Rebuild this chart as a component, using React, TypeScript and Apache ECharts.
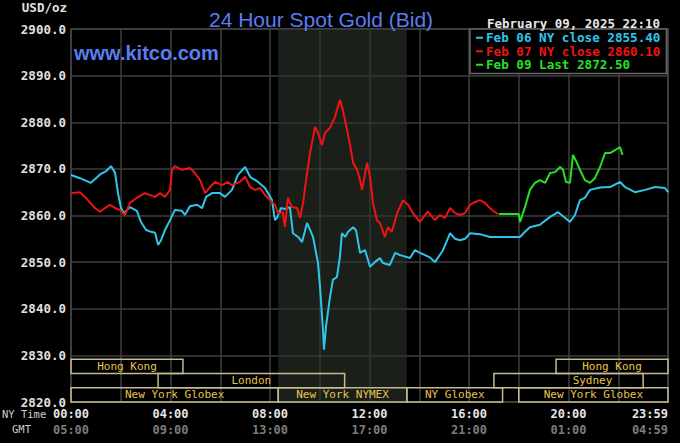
import React, { useEffect, useRef } from "react";
import * as echarts from "echarts";

// ---- data (hour of NY day, price) ----
const feb06: [number, number][] = [
  [0.0, 2868.7], [0.36, 2868.0], [0.8, 2867.0], [1.17, 2868.8], [1.41, 2869.5], [1.61, 2870.6],
  [1.77, 2869.2], [1.89, 2864.8], [2.01, 2861.6], [2.13, 2860.5], [2.37, 2861.8], [2.65, 2861.0],
  [2.81, 2858.6], [3.02, 2856.9], [3.22, 2856.5], [3.38, 2856.3], [3.5, 2853.7], [3.62, 2854.7],
  [3.78, 2856.9], [3.98, 2859.0], [4.18, 2861.2], [4.46, 2861.0], [4.58, 2860.1], [4.78, 2862.0],
  [5.07, 2862.3], [5.27, 2861.6], [5.43, 2864.0], [5.67, 2864.8], [5.99, 2864.8], [6.19, 2864.0],
  [6.47, 2865.5], [6.71, 2868.7], [7.0, 2870.4], [7.2, 2868.3], [7.52, 2867.2], [7.8, 2865.9],
  [8.08, 2863.3], [8.2, 2859.0], [8.28, 2859.5], [8.44, 2861.6], [8.6, 2861.4], [8.8, 2861.8],
  [8.92, 2856.2], [9.13, 2855.4], [9.29, 2854.3], [9.49, 2858.4], [9.73, 2855.4], [9.93, 2849.8],
  [10.01, 2844.7], [10.13, 2835.4], [10.17, 2831.2], [10.25, 2836.1], [10.41, 2842.5], [10.53, 2846.2],
  [10.69, 2846.8], [10.81, 2851.1], [10.89, 2856.2], [11.02, 2855.4], [11.14, 2856.5], [11.34, 2857.5],
  [11.46, 2856.8], [11.62, 2852.0], [11.82, 2852.6], [12.02, 2849.0], [12.22, 2850.0], [12.42, 2850.9],
  [12.54, 2849.8], [12.82, 2849.4], [13.03, 2852.0], [13.23, 2851.5], [13.63, 2850.9], [13.83, 2852.6],
  [14.03, 2852.0], [14.43, 2851.0], [14.63, 2850.0], [14.95, 2852.5], [15.24, 2856.2], [15.44, 2855.0],
  [15.64, 2854.7], [15.84, 2855.0], [16.04, 2856.2], [16.44, 2856.0], [16.84, 2855.4], [18.05, 2855.4],
  [18.25, 2856.5], [18.45, 2857.5], [18.85, 2858.0], [19.26, 2859.7], [19.58, 2860.7], [19.86, 2859.5],
  [20.06, 2858.6], [20.26, 2860.1], [20.46, 2863.3], [20.66, 2863.8], [20.86, 2865.5], [21.27, 2866.0],
  [21.67, 2866.1], [22.07, 2867.2], [22.27, 2866.1], [22.67, 2865.0], [23.08, 2865.5], [23.48, 2866.1],
  [23.88, 2865.9], [24.0, 2865.0],
];

const feb07: [number, number][] = [
  [0.0, 2864.8], [0.36, 2865.0], [0.68, 2863.3], [0.96, 2861.6], [1.17, 2860.8], [1.37, 2861.6],
  [1.57, 2862.3], [1.77, 2861.6], [1.97, 2861.2], [2.17, 2860.1], [2.37, 2862.7], [2.65, 2863.8],
  [2.97, 2864.8], [3.38, 2864.0], [3.58, 2864.8], [3.78, 2864.0], [3.98, 2865.5], [4.06, 2869.8],
  [4.18, 2870.6], [4.46, 2869.8], [4.78, 2870.2], [4.98, 2869.1], [5.19, 2867.6], [5.39, 2864.8],
  [5.59, 2866.1], [5.79, 2867.2], [6.07, 2866.5], [6.31, 2867.2], [6.47, 2866.5], [6.79, 2867.2],
  [7.0, 2868.3], [7.2, 2866.1], [7.4, 2865.5], [7.6, 2865.9], [7.8, 2864.4], [8.0, 2863.3],
  [8.2, 2862.3], [8.32, 2860.5], [8.52, 2860.7], [8.6, 2857.5], [8.72, 2863.8], [8.88, 2861.8],
  [9.09, 2861.6], [9.21, 2859.5], [9.33, 2862.7], [9.49, 2869.1], [9.61, 2873.4], [9.81, 2879.0],
  [9.93, 2877.7], [10.09, 2875.1], [10.21, 2877.7], [10.41, 2878.8], [10.61, 2881.1], [10.81, 2884.8],
  [10.93, 2882.6], [11.1, 2878.3], [11.22, 2875.1], [11.34, 2871.3], [11.5, 2869.8], [11.62, 2867.6],
  [11.7, 2865.5], [11.9, 2871.3], [12.02, 2868.3], [12.14, 2862.7], [12.3, 2859.0], [12.42, 2858.4],
  [12.62, 2855.4], [12.74, 2857.5], [12.9, 2856.5], [13.11, 2860.5], [13.35, 2863.3], [13.55, 2862.3],
  [13.75, 2860.5], [14.03, 2858.6], [14.23, 2860.1], [14.35, 2860.8], [14.63, 2859.0], [14.83, 2860.1],
  [15.04, 2859.5], [15.24, 2861.6], [15.44, 2860.5], [15.64, 2860.1], [15.84, 2860.5], [16.04, 2862.3],
  [16.24, 2862.9], [16.44, 2863.3], [16.64, 2862.7], [16.84, 2861.6], [17.05, 2860.7], [17.17, 2860.3],
];

const feb09: [number, number][] = [
  [17.2, 2860.3], [18.0, 2860.3], [18.05, 2858.6], [18.25, 2861.8], [18.45, 2865.5], [18.65, 2867.0],
  [18.85, 2867.6], [19.06, 2867.0], [19.26, 2869.1], [19.46, 2869.3], [19.66, 2870.4], [19.78, 2869.8],
  [19.9, 2867.2], [20.06, 2867.0], [20.18, 2873.0], [20.34, 2871.3], [20.46, 2869.8], [20.66, 2867.6],
  [20.86, 2867.0], [21.06, 2868.0], [21.27, 2870.4], [21.47, 2873.4], [21.67, 2873.4], [21.87, 2874.0],
  [22.07, 2874.7], [22.17, 2873.0],
];

const seriesNames = ["Feb 06 NY close 2855.40", "Feb 07 NY close 2860.10", "Feb 09 Last 2872.50"];
const seriesColors = ["#2fc6ea", "#ee1414", "#26e026"];

const nyTimeLabels = ["00:00", "04:00", "08:00", "12:00", "16:00", "20:00", "23:59"];
const gmtLabels = ["05:00", "09:00", "13:00", "17:00", "21:00", "01:00", "04:59"];

const sessionNames = ["Hong Kong", "London", "New York Globex", "New York NYMEX", "NY Globex", "Sydney", "Hong Kong", "New York Globex"];
const sessionStart = [0, 3.5, 0, 8.33, 13.5, 17.0, 19.5, 18.0];
const sessionEnd = [4.5, 11.0, 8.33, 13.5, 17.35, 23.0, 24, 24];
const sessionRow = [0, 1, 2, 2, 2, 1, 0, 2];
const rowEdges = [2829.15, 2826.1, 2823.05, 2820];

const nymexShade = [8.33, 13.5];

const MONO = "'DejaVu Sans Mono', monospace";

export default function App() {
  const ref = useRef<HTMLDivElement>(null);
  useEffect(() => {
    if (!ref.current) return;
    const chart = echarts.init(ref.current, null, { renderer: "svg" });

    const areas: any[] = [
      [
        { xAxis: nymexShade[0], yAxis: 2900, itemStyle: { color: "rgba(44,52,44,0.6)", borderWidth: 0 }, label: { show: false } },
        { xAxis: nymexShade[1], yAxis: 2820 },
      ],
    ];
    sessionNames.forEach((name, i) => {
      const r = sessionRow[i];
      areas.push([
        {
          name,
          xAxis: sessionStart[i],
          yAxis: rowEdges[r],
          itemStyle: { color: "rgba(0,0,0,0)", borderColor: "#c4bc90", borderWidth: 1.5 },
          label: name === "Sydney" ? { offset: [24, 0] } : {},
        },
        { xAxis: sessionEnd[i], yAxis: rowEdges[r + 1] },
      ]);
    });

    const mk = (i: number, data: [number, number][], extra: any = {}) => ({
      name: seriesNames[i],
      type: "line",
      data,
      showSymbol: false,
      symbol: "none",
      color: seriesColors[i],
      lineStyle: { width: 2, color: seriesColors[i] },
      z: 3 + i,
      ...extra,
    });

    chart.setOption({
      animation: false,
      backgroundColor: "#000",
      title: [
        {
          text: "24 Hour Spot Gold (Bid)",
          left: 204,
          top: 4,
          textStyle: { color: "#5a7ef0", fontSize: 21, fontWeight: "normal", fontFamily: "'Liberation Sans', Arial, sans-serif" },
        },
        {
          text: "www.kitco.com",
          left: 69,
          top: 38,
          textStyle: { color: "#5a7ef0", fontSize: 20, fontWeight: "bold", fontFamily: "'Liberation Sans', Arial, sans-serif" },
        },
        {
          text: "February 09, 2025 22:10",
          left: 482,
          top: 12,
          textStyle: { color: "#e8e8e8", fontSize: 12.5, fontWeight: "bold", fontFamily: MONO },
        },
      ],
      legend: {
        orient: "vertical",
        left: 470,
        top: 29,
        backgroundColor: "#000",
        borderColor: "#666",
        borderWidth: 1.5,
        padding: [2, 6, 2, 6],
        itemGap: 0,
        itemWidth: 7,
        itemHeight: 2,
        icon: "rect",
        selectedMode: false,
        textStyle: { fontFamily: MONO, fontSize: 12.6, fontWeight: "bold", lineHeight: 13.5, padding: [0, 0, 0, -2] },
        data: seriesNames.map((n, i) => ({ name: n, textStyle: { color: seriesColors[i] } })),
      },
      grid: { left: 71, right: 12, top: 29, bottom: 41, show: true, borderColor: "#555", borderWidth: 1.5, containLabel: false },
      xAxis: {
        type: "value",
        min: 0,
        max: 24,
        interval: 2,
        axisLine: { show: false },
        axisTick: { show: false },
        splitLine: { show: true, lineStyle: { color: "#3e3e3e", width: 1.5 } },
        axisLabel: {
          margin: 4,
          alignMaxLabel: "right",
          formatter: (v: number) => {
            if (v % 4 !== 0) return "";
            const k = v / 4;
            return `{a|${nyTimeLabels[k]}}\n{b|${gmtLabels[k]}}`;
          },
          rich: {
            a: { color: "#e6e6e6", fontSize: 12, fontWeight: "bold", fontFamily: MONO, lineHeight: 16 },
            b: { color: "#7c7c7c", fontSize: 12, fontWeight: "bold", fontFamily: MONO, lineHeight: 16 },
          },
        },
      },
      yAxis: {
        type: "value",
        min: 2820,
        max: 2900,
        interval: 10,
        name: "USD/oz",
        nameLocation: "end",
        nameGap: 15,
        nameTextStyle: { color: "#e0e0e0", fontSize: 12.5, fontWeight: "bold", fontFamily: MONO, align: "right", padding: [0, 4, 0, 0] },
        axisLine: { show: false },
        axisTick: { show: false },
        splitLine: { show: true, lineStyle: { color: "#3e3e3e", width: 1.5 } },
        axisLabel: {
          margin: 5,
          color: "#e0e0e0",
          fontSize: 12.5,
          fontWeight: "bold",
          fontFamily: MONO,
          formatter: (v: number) => v.toFixed(1),
        },
      },
      graphic: [
        { type: "text", left: 2, top: 408, style: { text: "NY Time", fill: "#cfcfcf", font: `10.5px ${MONO}` } },
        { type: "text", left: 12, top: 423, style: { text: "GMT", fill: "#cfcfcf", font: `10.5px ${MONO}` } },
      ],
      series: [
        mk(0, feb06, {
          markArea: {
            silent: true,
            label: { show: true, position: "inside", color: "#e8c44a", fontSize: 11, fontFamily: MONO },
            data: areas,
          },
        }),
        mk(1, feb07),
        mk(2, feb09),
      ],
    });
    return () => chart.dispose();
  }, []);
  return <div ref={ref} style={{ position: "fixed", left: 0, top: 0, width: 680, height: 443 }} />;
}
